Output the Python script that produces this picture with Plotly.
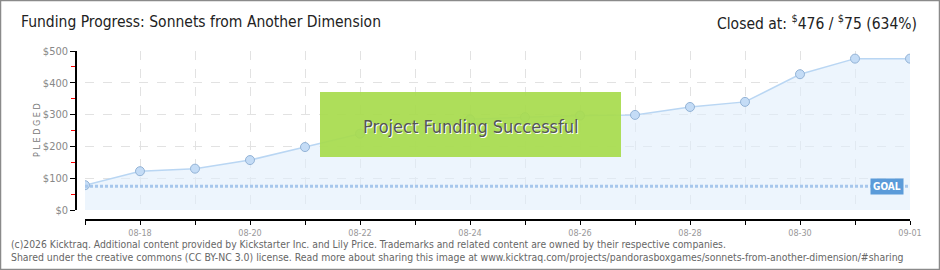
import plotly.graph_objects as go

# ---- data ----
dates = ["2013-08-17", "2013-08-18", "2013-08-19", "2013-08-20", "2013-08-21",
         "2013-08-22", "2013-08-23", "2013-08-24", "2013-08-25", "2013-08-26",
         "2013-08-27", "2013-08-28", "2013-08-29", "2013-08-30", "2013-08-31",
         "2013-09-01"]
pledged = [78, 122, 130, 157, 198, 240, 265, 285, 292, 297, 299, 324, 340, 427, 476, 476]
goal = 75
y_ticks = [0, 100, 200, 300, 400, 500]
y_tick_labels = ["$0", "$100", "$200", "$300", "$400", "$500"]

title_text = "Funding Progress: Sonnets from Another Dimension"
closed_text = "Closed at: <sup>$</sup>476 / <sup>$</sup>75 (634%)"
status_text = "Project Funding Successful"
footer1 = ("(c)2026 Kicktraq. Additional content provided by Kickstarter Inc. and Lily Price. "
           "Trademarks and related content are owned by their respective companies.")
footer2 = ("Shared under the creative commons (CC BY-NC 3.0) license. Read more about sharing this "
           "image at www.kicktraq.com/projects/pandorasboxgames/sonnets-from-another-dimension/#sharing")

FONT = "DejaVu Sans Condensed, Liberation Sans Narrow, sans-serif"

W, H = 940, 270
L, R, T, B = 76, 30, 51, 50
PW = W - L - R
PH = H - T - B


def px(x):
    return (x - L) / PW


def py(y):
    return (H - B - y) / PH


fig = go.Figure()

fig.add_trace(go.Scatter(
    x=dates, y=pledged, mode="lines+markers",
    line=dict(color="#b9d6f3", width=1.5),
    fill="tozeroy", fillcolor="rgba(225,238,252,0.6)",
    marker=dict(size=9, color="#c4dcf6", line=dict(color="#93b3d6", width=1)),
    hoverinfo="skip", showlegend=False,
))

fig.add_trace(go.Scatter(
    x=[dates[0], dates[-1]], y=[goal, goal], mode="lines",
    line=dict(color="#a7c7ec", width=3, dash="3px,2px"),
    hoverinfo="skip", showlegend=False,
))

grid_col = "#e2e2e2"

fig.update_layout(
    width=W, height=H,
    margin=dict(l=L, r=R, t=T, b=B),
    paper_bgcolor="white", plot_bgcolor="white",
    font=dict(family=FONT),
    xaxis=dict(
        type="date",
        range=[dates[0], dates[-1]],
        domain=[(85 - L) / PW, 1],
        anchor="free", position=0,
        tick0="2013-08-18", dtick=2 * 86400000,
        tickformat="%m-%d",
        ticks="outside", ticklen=4, tickcolor="black", tickwidth=1,
        tickfont=dict(size=9, color="#999999", family=FONT),
        showline=True, linecolor="black", linewidth=1.5,
        showgrid=True, gridcolor=grid_col, griddash="dash", gridwidth=1,
        minor=dict(dtick=86400000, ticks="outside", ticklen=4, tickcolor="black",
                   showgrid=True, gridcolor=grid_col, griddash="dash"),
        zeroline=False, fixedrange=True,
    ),
    yaxis=dict(
        range=[0, 500],
        domain=[10 / PH, 1],
        anchor="free", position=0,
        tickvals=y_ticks, ticktext=y_tick_labels,
        ticks="outside", ticklen=5, tickcolor="black", tickwidth=1,
        tickfont=dict(size=11, color="#888888", family=FONT),
        showline=True, linecolor="black", linewidth=1.5,
        showgrid=True, gridcolor=grid_col, griddash="dash", gridwidth=1,
        minor=dict(tickvals=[50, 150, 250, 350, 450], ticks="outside", ticklen=4,
                   tickcolor="red", showgrid=False),
        zeroline=False, fixedrange=True,
    ),
)

# green status box
fig.add_shape(type="rect", xref="paper", yref="paper",
              x0=px(320), x1=px(621), y0=py(157), y1=py(92),
              fillcolor="#a8dc4e", opacity=0.93, line=dict(width=0), layer="above")
fig.add_annotation(xref="paper", yref="paper", x=px(470), y=py(126),
                   text=status_text, showarrow=False,
                   font=dict(size=18, color="#555555", family=FONT, shadow="1px 1px 0px white"))

# goal label
fig.add_annotation(xref="x", yref="y", x=dates[-1], y=goal, xanchor="right", yanchor="middle",
                   xshift=-6, text="<b>GOAL</b>", showarrow=False,
                   bgcolor="#5b9bd9", borderpad=2,
                   font=dict(size=10, color="white", family=FONT))

# y-axis title
fig.add_annotation(xref="paper", yref="paper", x=px(30), y=py(130), text="P L E D G E D",
                   textangle=-90, showarrow=False,
                   font=dict(size=9, color="#777777", family=FONT))

# titles
fig.add_annotation(xref="paper", yref="paper", x=px(19), y=py(22), xanchor="left", yanchor="middle",
                   text=title_text, showarrow=False,
                   font=dict(size=15.5, color="#222222", family=FONT))
fig.add_annotation(xref="paper", yref="paper", x=px(919), y=py(22), xanchor="right", yanchor="middle",
                   text=closed_text, showarrow=False,
                   font=dict(size=15.5, color="#222222", family=FONT))

# footer
fig.add_annotation(xref="paper", yref="paper", x=px(9), y=py(244), xanchor="left", yanchor="middle",
                   text=footer1, showarrow=False,
                   font=dict(size=10.3, color="#666666", family=FONT))
fig.add_annotation(xref="paper", yref="paper", x=px(9), y=py(257), xanchor="left", yanchor="middle",
                   text=footer2, showarrow=False,
                   font=dict(size=10.4, color="#666666", family=FONT))

# frame
fig.add_shape(type="rect", xref="paper", yref="paper",
              x0=px(0.5), x1=px(939.5), y0=py(269.5), y1=py(0.5),
              line=dict(color="#8a8a8a", width=1.5), fillcolor="rgba(0,0,0,0)", layer="above")

fig.write_html("out.html")
